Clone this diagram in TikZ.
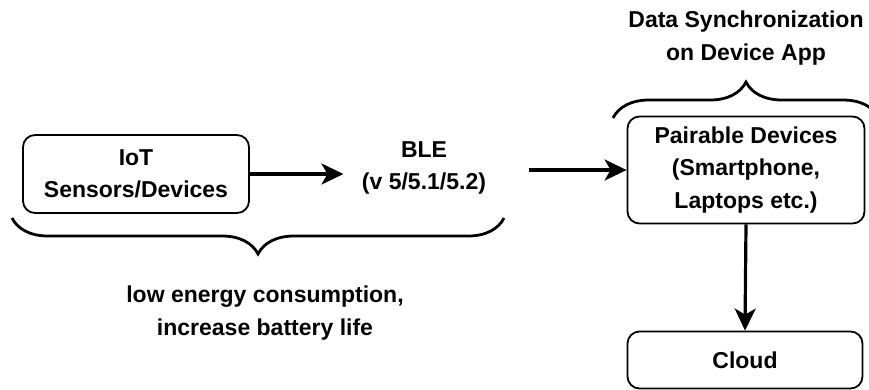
\documentclass[tikz,border=0pt]{standalone}
\usepackage{fontspec}
\setmainfont{Liberation Sans}
\usetikzlibrary{arrows.meta,positioning,calc,decorations.pathreplacing}

\begin{document}
\begin{tikzpicture}[
    x=1pt, y=-1pt,
    font=\fontsize{23}{32.5}\selectfont\bfseries,
    box/.style={rectangle, draw, rounded corners=12pt, line width=1.8pt, align=center},
    label/.style={align=center},
    arrow/.style={-{Stealth[length=22pt, width=21pt, inset=6pt]}, line width=3.2pt},
    curly/.style={decorate, decoration={brace, amplitude=36pt}, line width=2.8pt}
]
\useasboundingbox (0,0) rectangle (869,389);

% Sensor side
\node[box, minimum width=226pt, minimum height=78pt] (iot) at (136,174) {IoT\\Sensors/Devices};
\node[label] (ble) at (424,168) {BLE\\(v 5/5.1/5.2)};

% Device side
\node[box, minimum width=237pt, minimum height=107pt] (pair) at (746,170) {Pairable Devices\\(Smartphone,\\Laptops etc.)};
\node[box, minimum width=235pt, minimum height=57pt] (cloud) at (745,360) {Cloud};

% Arrows
\draw[arrow, shorten >=15pt] (iot.east) -- (iot.east -| ble.west);
\draw[arrow, shorten <=39pt] (pair.west -| ble.east) -- (pair.west);
\draw[arrow] (pair.south) -- (cloud.north);

% Braces
\coordinate (lowL) at (12,218);
\coordinate (lowR) at (504,218);
\draw[curly, decoration={mirror}] (lowL) -- (lowR);
\coordinate (topL) at (613,118);
\coordinate (topR) at (879,118);
\draw[curly] (topL) -- (topR);

% Labels
\node[label] (energy) at (265,313) {low energy consumption,\\increase battery life};
\node[label] (sync) at (746,38) {Data Synchronization\\on Device App};

\end{tikzpicture}
\end{document}
